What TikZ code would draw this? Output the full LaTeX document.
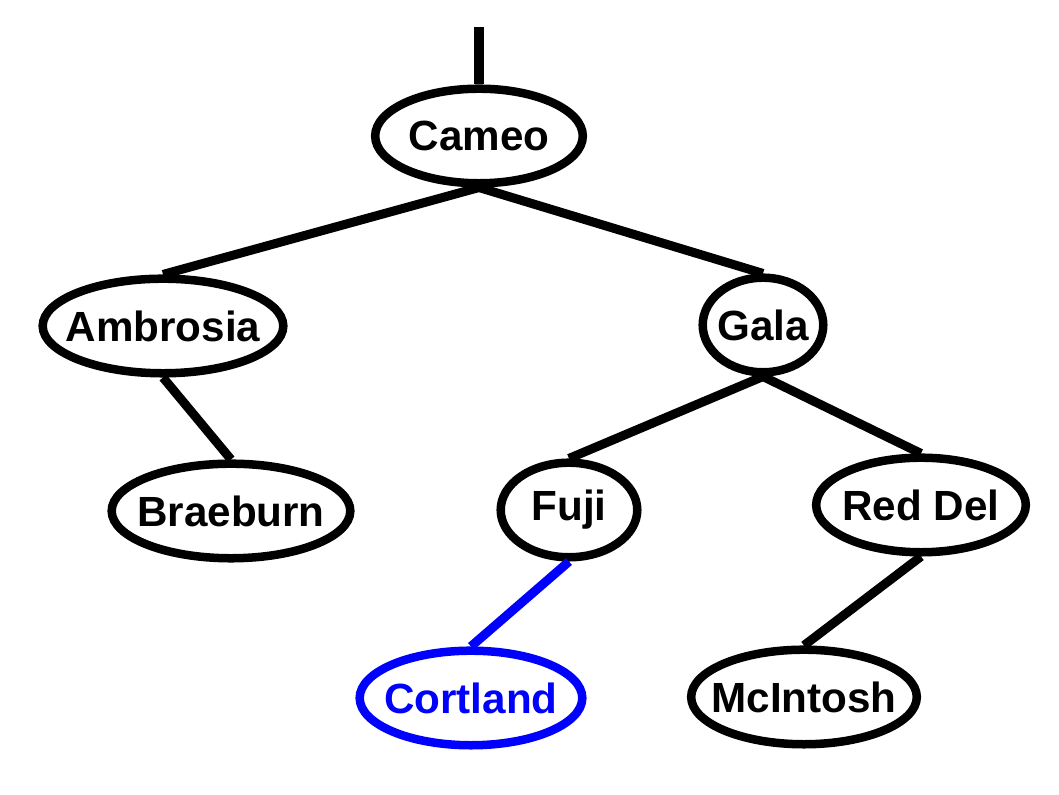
\documentclass[tikz,border=0pt]{standalone}
\usepackage{fontspec}
\setmainfont{Liberation Sans}
\usetikzlibrary{shapes.geometric}
\newcommand{\fruit}[1]{\makebox[0pt]{#1}}
\definecolor{pickblue}{RGB}{0,0,255}

\begin{document}
\begin{tikzpicture}[x=0.01cm,y=-0.01cm,
  apple/.style={ellipse,draw,line width=0.085cm,inner sep=0pt,minimum height=0.945cm,
    font=\fontsize{12}{14}\selectfont\bfseries},
  branch/.style={line width=0.09cm}]
\useasboundingbox (0,0) rectangle (1059,795);
\node [apple,minimum width=2.075cm] (cameo) at (479,136) {\fruit{Cameo}};
\node [apple,minimum width=2.405cm] (ambrosia) at (163,326) {\fruit{Ambrosia}};
\node [apple,minimum width=1.205cm] (gala) at (763,325) {\fruit{Gala}};
\node [apple,minimum width=2.385cm] (braeburn) at (231,511) {\fruit{Braeburn}};
\node [apple,minimum width=1.365cm] (fuji) at (569,510) {\fruit{Fuji}};
\node [apple,minimum width=2.095cm] (reddel) at (921,505) {\fruit{Red Del}};
\node [apple,minimum width=2.225cm,draw=pickblue,text=pickblue] (cortland) at (471,698) {\fruit{Cortland}};
\node [apple,minimum width=2.255cm] (mcintosh) at (804,697) {\fruit{McIntosh}};
\coordinate (root) at (479,27);

\draw [branch,line width=0.1cm] (root) -- (cameo.north);
\draw [branch] (cameo.south) -- (ambrosia.north);
\draw [branch] (cameo.south) -- (gala.north);
\draw [branch] (ambrosia.south) -- (braeburn.north);
\draw [branch] (gala.south) -- (fuji.north);
\draw [branch] (gala.south) -- (reddel.north);
\draw [branch,pickblue] (fuji.south) -- (cortland.north);
\draw [branch] (reddel.south) -- (mcintosh.north);
\end{tikzpicture}
\end{document}
